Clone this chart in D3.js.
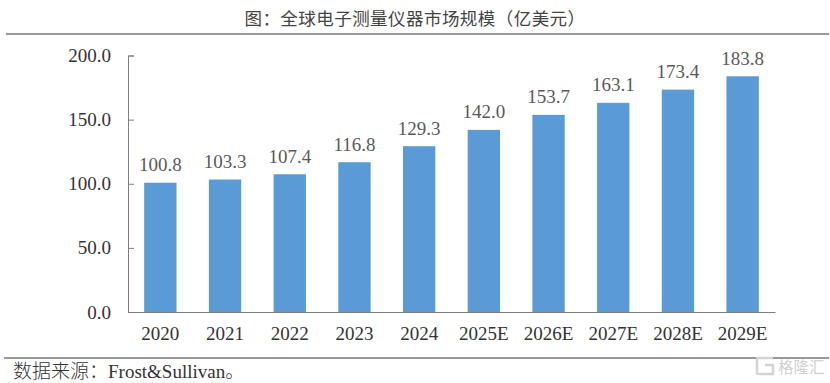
<!DOCTYPE html>
<html>
<head>
<meta charset="utf-8">
<script src="https://cdn.jsdelivr.net/npm/d3@7"></script>
<style>
  html, body { margin: 0; padding: 0; background: #fff; }
  svg { display: block; }
  text { font-family: "Liberation Serif", "Noto Sans CJK SC", serif; }
</style>
</head>
<body>
<script>
const years = ["2020","2021","2022","2023","2024","2025E","2026E","2027E","2028E","2029E"];
const values = [100.8,103.3,107.4,116.8,129.3,142.0,153.7,163.1,173.4,183.8];
const yTicks = [0,50,100,150,200];

const xSize = 830, ySize = 383;
const left = 128, right = 775, top_ = 55.5, bottom = 312;

const svg = d3.select("body").append("svg")
    .attr("width", xSize)
    .attr("height", ySize)
    .attr("viewBox", "0 0 " + xSize + " " + ySize);

let x = d3.scaleBand().domain(years).range([left, right]).paddingInner(0.5).paddingOuter(0.25);
let y = d3.scaleLinear().domain([0,200]).range([bottom, top_]);

// Title and the two rules
svg.append("text")
    .attr("x", 415).attr("y", 25)
    .attr("text-anchor", "middle")
    .attr("font-size", 17.5)
    .attr("font-weight", 400)
    .attr("fill", "#444")
    .attr("letter-spacing", 0.45)
    .style("font-family", "'Noto Sans CJK SC', sans-serif")
    .text("图：全球电子测量仪器市场规模（亿美元）");

svg.append("line").attr("x1", 6).attr("x2", 829).attr("y1", 34).attr("y2", 34)
    .attr("stroke", "#333").attr("stroke-width", 1);
svg.append("line").attr("x1", 4).attr("x2", 829).attr("y1", 358).attr("y2", 358)
    .attr("stroke", "#333").attr("stroke-width", 1);

// Bars
svg.selectAll(".bar")
    .data(values)
    .enter().append("rect")
    .attr("class", "bar")
    .attr("x", function(d,i){return x(years[i])})
    .attr("y", function(d){return y(d)})
    .attr("width", x.bandwidth())
    .attr("height", function(d){return y(0) - y(d)})
    .attr("fill", "#5b9bd5");

// Value labels
svg.selectAll(".barLabel")
    .data(values)
    .enter().append("text")
    .attr("class", "barLabel")
    .attr("x", function(d,i){return x(years[i]) + x.bandwidth()/2})
    .attr("y", function(d){return y(d) - 11.5})
    .attr("text-anchor", "middle")
    .attr("font-size", 19)
    .attr("fill", "#595959")
    .text(function(d){return d.toFixed(1)});

// Axes
let yAxis = d3.axisLeft(y).tickValues(yTicks).tickSize(-6).tickPadding(17)
    .tickFormat(function(d){return d.toFixed(1)});
let xAxis = d3.axisBottom(x).tickSize(0).tickPadding(14.5);

let yG = svg.append("g").attr("transform", "translate(" + left + ",0)").call(yAxis);
let xG = svg.append("g").attr("transform", "translate(0," + bottom + ")").call(xAxis);

yG.attr("font-family", null);
xG.attr("font-family", null);
yG.selectAll("path,line").attr("stroke", "#7f7f7f");
xG.selectAll("path").attr("stroke", "#7f7f7f");
yG.selectAll("text").attr("font-size", 19).attr("fill", "#333");
xG.selectAll("text").attr("font-size", 19).attr("fill", "#333");

// Source line
svg.append("text")
    .attr("x", 13).attr("y", 378)
    .attr("font-size", 19)
    .attr("font-weight", 300)
    .attr("fill", "#333")
    .text("数据来源：Frost&Sullivan。");

// Watermark
let mark = svg.append("g");
mark.append("path")
    .attr("d", "M773 358H758Q757 358 757 359V373Q757 374 758 374H773V365H765")
    .attr("fill", "none").attr("stroke", "#d4d4d4").attr("stroke-width", 2.5);
mark.append("text")
    .attr("x", 778).attr("y", 373)
    .attr("font-size", 15.5)
    .attr("fill", "#d0d0d0")
    .style("font-family", "'Noto Sans CJK SC', sans-serif")
    .text("格隆汇");
</script>
</body>
</html>
